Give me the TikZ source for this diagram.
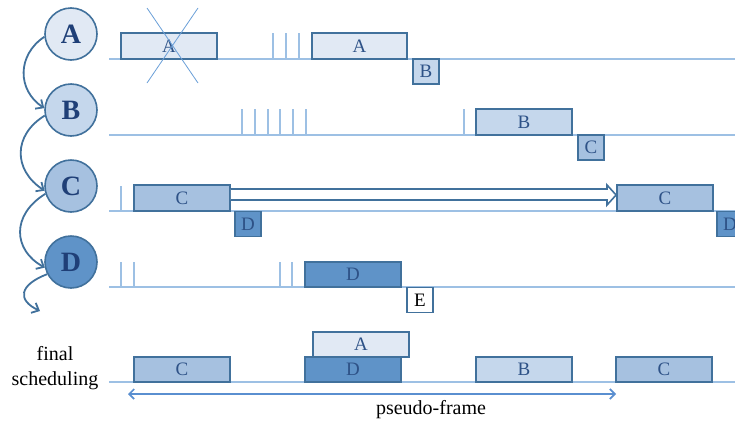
\documentclass[tikz,border=0pt]{standalone}
\usepackage{fontspec}
\setmainfont{Liberation Serif}
\usetikzlibrary{arrows.meta}
\definecolor{edgec}{HTML}{41719C}
\definecolor{fa}{HTML}{E1E9F4}
\definecolor{fb}{HTML}{C5D7EC}
\definecolor{fc}{HTML}{A6C1E0}
\definecolor{fd}{HTML}{5F93C8}
\definecolor{txtc}{HTML}{2E5287}
\definecolor{navy}{HTML}{1F3F77}
\definecolor{tl}{HTML}{9DC0E4}
\definecolor{crossc}{HTML}{6A9FD8}
\definecolor{pf}{HTML}{5A8FD0}
\tikzset{
  task/.style={draw=edgec, line width=1.8pt, text=txtc, font=\fontsize{19}{20}\selectfont,
    minimum width=96pt, minimum height=26pt, inner sep=0pt},
  small/.style={task, minimum width=26pt, minimum height=25pt},
  proc/.style={circle, draw=edgec, line width=1.6pt, minimum size=52pt, inner sep=0pt,
    text=navy, font=\fontsize{28}{30}\selectfont\bfseries},
  tline/.style={draw=tl, line width=1.3pt},
  tick/.style={draw=tl, line width=1.3pt},
  flow/.style={draw=edgec, line width=1.8pt, -{Straight Barb[length=6pt,width=11pt]}},
}
\begin{document}
\begin{tikzpicture}[x=1pt,y=-1pt]
\clip (0,0) rectangle (735,426);
\fill[white] (0,0) rectangle (735,426);
% timelines
\foreach \y in {59,135,211,287,382} \draw[tline] (109,\y) -- (735,\y);
% ticks
\foreach \x in {273,286,299} \draw[tick] (\x,33) -- (\x,59);
\foreach \x in {242,255,268,280,293,306,464} \draw[tick] (\x,109) -- (\x,135);
\draw[tick] (121,186) -- (121,211);
\foreach \x in {121,134,280,292} \draw[tick] (\x,262) -- (\x,287);
% circles
\node[proc, fill=fa] (pA) at (71,34) {A};
\node[proc, fill=fb] (pB) at (71,110) {B};
\node[proc, fill=fc] (pC) at (71,186) {C};
\node[proc, fill=fd] (pD) at (71,262) {D};
\coordinate (out) at (40,311);
\draw[flow] (pA.186) .. controls (17,55) and (17,90) .. (pB.176);
\draw[flow] (pB.192) .. controls (13,135) and (13,170) .. (pC.190);
\draw[flow] (pC.197) .. controls (11,215) and (13,250) .. (pD.192);
\draw[flow] (pD.207) .. controls (19,285) and (17,300) .. (out);
% row A
\node[task, fill=fa] (a0) at (169,46) {A};
\draw[crossc, line width=0.8pt] (147,8) -- (198,83) (198,8) -- (147,83);
\node[task, fill=fa, minimum width=95pt] (a1) at (359.5,46) {A};
\node[small, fill=fb] (a2) at (426,71.5) {B};
% row B
\node[task, fill=fb] (b1) at (524,122) {B};
\node[small, fill=fc] (b2) at (591,147.5) {C};
% row C
\node[task, fill=fc] (c1) at (182,198) {C};
\node[small, fill=fd] (c2) at (248,224) {D};
\node[task, fill=fc] (c3) at (665,198) {C};
\node[small, fill=fd] (c4) at (730,224) {D};
\draw[edgec, line width=1.6pt, fill=white, line join=miter]
  (c1.east |- 0,189) -- (607,189) -- (607,185) -- (c3.west |- 0,195) -- (607,205) -- (607,200) -- (c1.east |- 0,200);
% row D
\node[task, fill=fd, minimum height=25pt] (d1) at (353,274.5) {D};
\node[small, fill=white, text=black] (d2) at (420,300) {E};
% final scheduling
\node[task, fill=fa, minimum height=25pt] (fA) at (361,344.5) {A};
\node[task, fill=fc, minimum height=25pt] (fC1) at (182,369.5) {C};
\node[task, fill=fd, minimum height=25pt] (fD) at (353,369.5) {D};
\node[task, fill=fb, minimum height=25pt] (fB) at (524,369.5) {B};
\node[task, fill=fc, minimum height=25pt] (fC2) at (664,369.5) {C};
\node[align=center, font=\fontsize{20}{25}\selectfont] (fs) at (55,368) {final\\scheduling};
\coordinate (pf1) at (128,394);
\coordinate (pf2) at (616,394);
\draw[pf, line width=1.7pt, {Straight Barb[length=5pt,width=10pt]}-{Straight Barb[length=5pt,width=10pt]}] (pf1) -- (pf2);
\node[font=\fontsize{20}{20}\selectfont] (pfl) at (431,410) {pseudo-frame};
\end{tikzpicture}
\end{document}
